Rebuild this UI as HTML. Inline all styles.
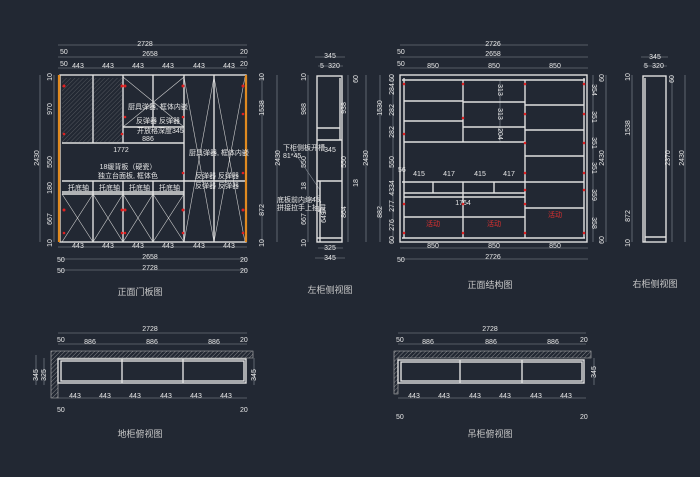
<!DOCTYPE html>
<html><head><meta charset="utf-8"><style>
html,body{margin:0;padding:0;background:#222833;}
svg{display:block}
text{font-family:"Liberation Sans","Noto Sans CJK SC",sans-serif;fill:#e8e8e8;font-size:7px}
.d{stroke:#8a9099;stroke-width:.6;fill:none}
.w{stroke:#e0e0e0;stroke-width:1.4;fill:none}
.t{stroke:#d0d0d0;stroke-width:.6;fill:none}
.o{stroke:#e08a20;stroke-width:2.2}
.r{fill:#e02020}
.lb{font-size:9px;fill:#c8c8c8}
.rt{fill:#e03030;font-size:7px}
</style></head><body>
<svg width="700" height="477" viewBox="0 0 700 477" xmlns="http://www.w3.org/2000/svg">
<defs><pattern id="h" width="3" height="3" patternUnits="userSpaceOnUse" patternTransform="rotate(45)"><line x1="0" y1="0" x2="0" y2="3" stroke="#aaa" stroke-width=".7"/></pattern></defs>

<!-- ===== 正面门板图 ===== -->
<g class="d">
<line x1="58" y1="45" x2="247" y2="45"/><line x1="58" y1="57" x2="247" y2="57"/><line x1="58" y1="68" x2="247" y2="68"/>
<line x1="58" y1="247" x2="247" y2="247"/><line x1="58" y1="259" x2="247" y2="259"/><line x1="58" y1="270" x2="247" y2="270"/>
<line x1="40" y1="75" x2="40" y2="242"/><line x1="54" y1="75" x2="54" y2="242"/>
<line x1="262" y1="75" x2="262" y2="242"/><line x1="277" y1="75" x2="277" y2="242"/>
</g>
<text x="145" y="46" text-anchor="middle">2728</text>
<text x="60" y="54">50</text><text x="150" y="56" text-anchor="middle">2658</text><text x="240" y="54">20</text>
<text x="60" y="66">50</text><text x="240" y="66">20</text>
<text x="78" y="68" text-anchor="middle">443</text><text x="108" y="68" text-anchor="middle">443</text><text x="138" y="68" text-anchor="middle">443</text><text x="168" y="68" text-anchor="middle">443</text><text x="199" y="68" text-anchor="middle">443</text><text x="229" y="68" text-anchor="middle">443</text>
<text x="78" y="248" text-anchor="middle">443</text><text x="108" y="248" text-anchor="middle">443</text><text x="138" y="248" text-anchor="middle">443</text><text x="168" y="248" text-anchor="middle">443</text><text x="199" y="248" text-anchor="middle">443</text><text x="229" y="248" text-anchor="middle">443</text>
<text x="57" y="262">50</text><text x="150" y="259" text-anchor="middle">2658</text><text x="240" y="262">20</text>
<text x="57" y="273">50</text><text x="150" y="270" text-anchor="middle">2728</text><text x="240" y="273">20</text>
<text transform="translate(39,158) rotate(-90)" text-anchor="middle">2430</text>
<text transform="translate(52,109) rotate(-90)" text-anchor="middle">970</text>
<text transform="translate(52,162) rotate(-90)" text-anchor="middle">550</text>
<text transform="translate(52,188) rotate(-90)" text-anchor="middle">180</text>
<text transform="translate(52,219) rotate(-90)" text-anchor="middle">667</text>
<text transform="translate(52,77) rotate(-90)" text-anchor="middle">10</text>
<text transform="translate(52,243) rotate(-90)" text-anchor="middle">10</text>
<text transform="translate(264,108) rotate(-90)" text-anchor="middle">1538</text>
<text transform="translate(264,210) rotate(-90)" text-anchor="middle">872</text>
<text transform="translate(280,158) rotate(-90)" text-anchor="middle">2430</text>
<text transform="translate(264,77) rotate(-90)" text-anchor="middle">10</text>
<text transform="translate(264,243) rotate(-90)" text-anchor="middle">10</text>
<g>
<rect x="62" y="78" width="60" height="64" fill="url(#h)" opacity=".5"/>
<line class="t" x1="62" y1="194" x2="93" y2="242"/><line class="t" x1="93" y1="194" x2="62" y2="242"/>
<line class="t" x1="93" y1="194" x2="123" y2="242"/><line class="t" x1="123" y1="194" x2="93" y2="242"/>
<line class="t" x1="123" y1="194" x2="153" y2="242"/><line class="t" x1="153" y1="194" x2="123" y2="242"/>
<line class="t" x1="153" y1="194" x2="184" y2="242"/><line class="t" x1="184" y1="194" x2="153" y2="242"/>
<line class="t" x1="184" y1="77" x2="214" y2="242"/><line class="t" x1="214" y1="77" x2="184" y2="242"/>
<line class="t" x1="214" y1="77" x2="245" y2="242"/><line class="t" x1="245" y1="77" x2="214" y2="242"/>
<line class="t" x1="123" y1="77" x2="184" y2="127"/><line class="t" x1="184" y1="77" x2="123" y2="127"/>
</g>
<g class="w">
<rect x="60" y="75" width="186" height="167"/>
<line x1="62" y1="143" x2="184" y2="143"/><line x1="123" y1="127" x2="184" y2="127"/>
<line x1="62" y1="181" x2="245" y2="181"/><line x1="62" y1="194" x2="184" y2="194"/><line x1="62" y1="192" x2="184" y2="192"/>
<line x1="93" y1="75" x2="93" y2="143"/><line x1="123" y1="75" x2="123" y2="143"/><line x1="153" y1="75" x2="153" y2="127"/>
<line x1="184" y1="75" x2="184" y2="242"/><line x1="214" y1="75" x2="214" y2="242"/>
<line x1="93" y1="181" x2="93" y2="242"/><line x1="123" y1="181" x2="123" y2="242"/><line x1="153" y1="181" x2="153" y2="242"/>
</g>
<line class="o" x1="59" y1="75" x2="59" y2="242"/><line class="o" x1="246" y1="75" x2="246" y2="242"/>
<g class="r">
<circle cx="64" cy="86" r="1.5"/><circle cx="122" cy="86" r="1.5"/><circle cx="125" cy="86" r="1.5"/><circle cx="183" cy="86" r="1.5"/><circle cx="243" cy="86" r="1.5"/>
<circle cx="64" cy="134" r="1.3"/><circle cx="122" cy="134" r="1.3"/><circle cx="125" cy="117" r="1.3"/><circle cx="183" cy="117" r="1.3"/><circle cx="243" cy="114" r="1.3"/>
<circle cx="183" cy="173" r="1.3"/><circle cx="243" cy="173" r="1.3"/>
<circle cx="64" cy="210" r="1.5"/><circle cx="122" cy="210" r="1.5"/><circle cx="125" cy="210" r="1.5"/><circle cx="183" cy="210" r="1.5"/><circle cx="243" cy="210" r="1.5"/>
<circle cx="64" cy="233" r="1.3"/><circle cx="122" cy="233" r="1.3"/><circle cx="125" cy="233" r="1.3"/><circle cx="183" cy="233" r="1.3"/><circle cx="243" cy="233" r="1.3"/>
</g>
<text x="128" y="109" font-size="6">厨具弹器, 框体内嵌</text>
<text x="136" y="123" font-size="6">反弹器 反弹器</text>
<text x="137" y="133" font-size="6">开放格深度345</text>
<text x="148" y="141" text-anchor="middle">886</text>
<text x="121" y="152" text-anchor="middle">1772</text>
<text x="128" y="169" text-anchor="middle" font-size="6">18缓背板（硬瓷）</text>
<text x="128" y="178" text-anchor="middle" font-size="6">独立台面板, 框体色</text>
<text x="189" y="155" font-size="6">厨具弹器, 框体内嵌</text>
<text x="195" y="178" font-size="6">反弹器 反弹器</text>
<text x="195" y="188" font-size="6">反弹器 反弹器</text>
<text x="68" y="190" font-size="6">托底轴</text><text x="99" y="190" font-size="6">托底轴</text><text x="129" y="190" font-size="6">托底轴</text><text x="159" y="190" font-size="6">托底轴</text>
<text x="140" y="295" class="lb" text-anchor="middle">正面门板图</text>

<!-- ===== 左柜侧视图 ===== -->
<g class="d">
<line x1="315" y1="57" x2="345" y2="57"/><line x1="318" y1="66" x2="343" y2="66"/>
<line x1="308" y1="75" x2="308" y2="242"/><line x1="348" y1="75" x2="348" y2="242"/><line x1="366" y1="75" x2="366" y2="242"/>
<line x1="318" y1="248" x2="343" y2="248"/><line x1="315" y1="258" x2="345" y2="258"/>
<line x1="293" y1="150" x2="320" y2="190"/><line x1="293" y1="208" x2="320" y2="195"/>
</g>
<text x="330" y="58" text-anchor="middle">345</text><text x="320" y="68">5</text><text x="334" y="68" text-anchor="middle">320</text>
<text x="330" y="152" text-anchor="middle">345</text>
<text x="330" y="250" text-anchor="middle">325</text><text x="330" y="260" text-anchor="middle">345</text>
<text transform="translate(306,109) rotate(-90)" text-anchor="middle">988</text>
<text transform="translate(306,162) rotate(-90)" text-anchor="middle">550</text>
<text transform="translate(306,219) rotate(-90)" text-anchor="middle">667</text>
<text transform="translate(306,186) rotate(-90)" text-anchor="middle">18</text>
<text transform="translate(306,77) rotate(-90)" text-anchor="middle">10</text>
<text transform="translate(306,243) rotate(-90)" text-anchor="middle">10</text>
<text transform="translate(346,108) rotate(-90)" text-anchor="middle">938</text>
<text transform="translate(346,162) rotate(-90)" text-anchor="middle">550</text>
<text transform="translate(346,212) rotate(-90)" text-anchor="middle">864</text>
<text transform="translate(358,79) rotate(-90)" text-anchor="middle">60</text>
<text transform="translate(358,183) rotate(-90)" text-anchor="middle">18</text>
<text transform="translate(368,158) rotate(-90)" text-anchor="middle">2430</text>
<text transform="translate(326,217) rotate(-90)" text-anchor="middle">649</text>
<text x="318" y="213">45</text>
<text x="283" y="150" font-size="6">下柜侧板开槽</text><text x="283" y="158" font-size="6">81*45</text>
<text x="277" y="202" font-size="6">底板前内缩45,</text><text x="277" y="210" font-size="6">拼接拉手上抽屉</text>
<g class="w">
<rect x="317" y="76" width="25" height="166"/>
<line x1="317" y1="140" x2="342" y2="140"/><line x1="317" y1="128" x2="340" y2="128"/><line x1="340" y1="78" x2="340" y2="140"/>
<line x1="317" y1="181" x2="342" y2="181"/><line x1="320" y1="181" x2="320" y2="242"/><line x1="317" y1="238" x2="342" y2="238"/>
</g>
<text x="330" y="293" class="lb" text-anchor="middle">左柜侧视图</text>

<!-- ===== 正面结构图 ===== -->
<g class="d">
<line x1="400" y1="45" x2="588" y2="45"/><line x1="400" y1="57" x2="588" y2="57"/><line x1="400" y1="68" x2="588" y2="68"/>
<line x1="400" y1="248" x2="588" y2="248"/><line x1="400" y1="259" x2="588" y2="259"/>
<line x1="380" y1="75" x2="380" y2="242"/><line x1="393" y1="75" x2="393" y2="242"/>
<line x1="593" y1="75" x2="593" y2="242"/><line x1="606" y1="75" x2="606" y2="242"/>
<line x1="500" y1="80" x2="500" y2="142"/>
</g>
<text x="493" y="46" text-anchor="middle">2726</text>
<text x="397" y="54">50</text><text x="493" y="56" text-anchor="middle">2658</text>
<text x="397" y="66">50</text>
<text x="433" y="68" text-anchor="middle">850</text><text x="494" y="68" text-anchor="middle">850</text><text x="555" y="68" text-anchor="middle">850</text>
<text x="433" y="248" text-anchor="middle">850</text><text x="494" y="248" text-anchor="middle">850</text><text x="555" y="248" text-anchor="middle">850</text>
<text x="397" y="262">50</text><text x="493" y="259" text-anchor="middle">2726</text>
<text transform="translate(382,108) rotate(-90)" text-anchor="middle">1530</text>
<text transform="translate(382,212) rotate(-90)" text-anchor="middle">882</text>
<text transform="translate(394,78) rotate(-90)" text-anchor="middle">60</text>
<text transform="translate(394,89) rotate(-90)" text-anchor="middle">284</text>
<text transform="translate(394,110) rotate(-90)" text-anchor="middle">282</text>
<text transform="translate(394,132) rotate(-90)" text-anchor="middle">282</text>
<text transform="translate(394,162) rotate(-90)" text-anchor="middle">550</text>
<text transform="translate(394,188) rotate(-90)" text-anchor="middle">4334</text>
<text transform="translate(394,206) rotate(-90)" text-anchor="middle">277</text>
<text transform="translate(394,225) rotate(-90)" text-anchor="middle">276</text>
<text transform="translate(394,240) rotate(-90)" text-anchor="middle">60</text>
<text x="398" y="172" font-size="6">56</text>
<text transform="translate(498,90) rotate(90)" text-anchor="middle">313</text>
<text transform="translate(498,114) rotate(90)" text-anchor="middle">313</text>
<text transform="translate(498,134) rotate(90)" text-anchor="middle">204</text>
<text transform="translate(592,90) rotate(90)" text-anchor="middle">354</text>
<text transform="translate(592,117) rotate(90)" text-anchor="middle">351</text>
<text transform="translate(592,143) rotate(90)" text-anchor="middle">351</text>
<text transform="translate(592,168) rotate(90)" text-anchor="middle">351</text>
<text transform="translate(592,195) rotate(90)" text-anchor="middle">359</text>
<text transform="translate(592,223) rotate(90)" text-anchor="middle">358</text>
<text transform="translate(604,78) rotate(-90)" text-anchor="middle">60</text>
<text transform="translate(604,158) rotate(-90)" text-anchor="middle">2430</text>
<text transform="translate(604,240) rotate(-90)" text-anchor="middle">60</text>
<text x="419" y="176" text-anchor="middle">415</text><text x="449" y="176" text-anchor="middle">417</text><text x="480" y="176" text-anchor="middle">415</text><text x="509" y="176" text-anchor="middle">417</text>
<text x="463" y="205" text-anchor="middle">1764</text>
<g class="w">
<rect x="400" y="75" width="187" height="167"/>
<line x1="404" y1="78" x2="404" y2="238"/><line x1="584" y1="78" x2="584" y2="238"/>
<line x1="402" y1="80" x2="585" y2="80"/><line x1="402" y1="238" x2="585" y2="238"/>
<line x1="463" y1="80" x2="463" y2="142"/><line x1="525" y1="80" x2="525" y2="238"/>
<line x1="404" y1="101" x2="463" y2="101"/><line x1="404" y1="121" x2="463" y2="121"/><line x1="404" y1="142" x2="525" y2="142"/>
<line x1="463" y1="102" x2="525" y2="102"/><line x1="463" y1="127" x2="525" y2="127"/>
<line x1="525" y1="105" x2="584" y2="105"/><line x1="525" y1="130" x2="584" y2="130"/><line x1="525" y1="156" x2="584" y2="156"/><line x1="525" y1="182" x2="584" y2="182"/><line x1="525" y1="208" x2="584" y2="208"/>
<line x1="402" y1="182" x2="525" y2="182"/><line x1="404" y1="193" x2="525" y2="193"/><line x1="404" y1="197" x2="525" y2="197"/><line x1="404" y1="217" x2="525" y2="217"/>
<line x1="463" y1="182" x2="463" y2="238"/><line x1="433" y1="182" x2="433" y2="193"/><line x1="494" y1="182" x2="494" y2="193"/>
</g>
<g class="r">
<circle cx="404" cy="84" r="1.3"/><circle cx="463" cy="84" r="1.3"/><circle cx="525" cy="84" r="1.3"/><circle cx="584" cy="84" r="1.3"/>
<circle cx="404" cy="134" r="1.3"/><circle cx="463" cy="118" r="1.3"/><circle cx="525" cy="114" r="1.3"/><circle cx="584" cy="114" r="1.3"/>
<circle cx="525" cy="143" r="1.3"/><circle cx="584" cy="143" r="1.3"/><circle cx="525" cy="173" r="1.3"/><circle cx="584" cy="173" r="1.3"/>
<circle cx="525" cy="190" r="1.3"/><circle cx="584" cy="190" r="1.3"/>
<circle cx="404" cy="204" r="1.3"/><circle cx="463" cy="204" r="1.3"/><circle cx="525" cy="204" r="1.3"/>
<circle cx="404" cy="233" r="1.3"/><circle cx="463" cy="233" r="1.3"/><circle cx="525" cy="233" r="1.3"/><circle cx="584" cy="233" r="1.3"/>
</g>
<text x="433" y="226" class="rt" text-anchor="middle">活动</text><text x="494" y="226" class="rt" text-anchor="middle">活动</text><text x="555" y="217" class="rt" text-anchor="middle">活动</text>
<text x="490" y="288" class="lb" text-anchor="middle">正面结构图</text>

<!-- ===== 右柜侧视图 ===== -->
<g class="d">
<line x1="641" y1="57" x2="668" y2="57"/><line x1="643" y1="66" x2="667" y2="66"/>
<line x1="632" y1="75" x2="632" y2="242"/><line x1="672" y1="75" x2="672" y2="242"/><line x1="685" y1="75" x2="685" y2="242"/>
</g>
<text x="655" y="59" text-anchor="middle">345</text><text x="644" y="68">5</text><text x="658" y="68" text-anchor="middle">320</text>
<text transform="translate(630,77) rotate(-90)" text-anchor="middle">10</text>
<text transform="translate(630,128) rotate(-90)" text-anchor="middle">1538</text>
<text transform="translate(630,216) rotate(-90)" text-anchor="middle">872</text>
<text transform="translate(630,243) rotate(-90)" text-anchor="middle">10</text>
<text transform="translate(674,79) rotate(-90)" text-anchor="middle">60</text>
<text transform="translate(670,158) rotate(-90)" text-anchor="middle">2370</text>
<text transform="translate(684,158) rotate(-90)" text-anchor="middle">2430</text>
<g class="w"><rect x="643" y="76" width="23" height="166"/><line x1="645" y1="78" x2="645" y2="242"/><line x1="645" y1="237" x2="666" y2="237"/></g>
<text x="655" y="287" class="lb" text-anchor="middle">右柜侧视图</text>

<!-- ===== 地柜俯视图 ===== -->
<g class="d">
<line x1="58" y1="333" x2="247" y2="333"/><line x1="58" y1="344" x2="247" y2="344"/><line x1="58" y1="398" x2="247" y2="398"/>
<line x1="36" y1="355" x2="36" y2="385"/><line x1="44" y1="358" x2="44" y2="385"/><line x1="254" y1="358" x2="254" y2="385"/>
</g>
<text x="150" y="331" text-anchor="middle">2728</text>
<text x="57" y="342">50</text><text x="240" y="342">20</text>
<text x="90" y="344" text-anchor="middle">886</text><text x="152" y="344" text-anchor="middle">886</text><text x="214" y="344" text-anchor="middle">886</text>
<text x="75" y="398" text-anchor="middle">443</text><text x="105" y="398" text-anchor="middle">443</text><text x="135" y="398" text-anchor="middle">443</text><text x="166" y="398" text-anchor="middle">443</text><text x="196" y="398" text-anchor="middle">443</text><text x="226" y="398" text-anchor="middle">443</text>
<text x="57" y="412">50</text><text x="240" y="412">20</text>
<text transform="translate(38,375) rotate(-90)" text-anchor="middle">345</text>
<text transform="translate(46,375) rotate(-90)" text-anchor="middle">325</text>
<text transform="translate(256,375) rotate(-90)" text-anchor="middle">345</text>
<path d="M51,351 H253 V358 H58 V398 H51 Z" fill="url(#h)" stroke="#bbb" stroke-width=".6"/>
<g class="w"><rect x="58" y="359" width="188" height="24"/><rect x="61" y="361" width="183" height="20"/><line x1="122" y1="359" x2="122" y2="383"/><line x1="183" y1="359" x2="183" y2="383"/></g>
<text x="140" y="437" class="lb" text-anchor="middle">地柜俯视图</text>

<!-- ===== 吊柜俯视图 ===== -->
<g class="d">
<line x1="398" y1="333" x2="586" y2="333"/><line x1="398" y1="344" x2="586" y2="344"/><line x1="398" y1="398" x2="586" y2="398"/>
<line x1="594" y1="358" x2="594" y2="385"/>
</g>
<text x="490" y="331" text-anchor="middle">2728</text>
<text x="396" y="342">50</text><text x="580" y="342">20</text>
<text x="428" y="344" text-anchor="middle">886</text><text x="491" y="344" text-anchor="middle">886</text><text x="553" y="344" text-anchor="middle">886</text>
<text x="414" y="398" text-anchor="middle">443</text><text x="444" y="398" text-anchor="middle">443</text><text x="475" y="398" text-anchor="middle">443</text><text x="505" y="398" text-anchor="middle">443</text><text x="536" y="398" text-anchor="middle">443</text><text x="566" y="398" text-anchor="middle">443</text>
<text x="396" y="419">50</text><text x="580" y="419">20</text>
<text transform="translate(596,372) rotate(-90)" text-anchor="middle">345</text>
<path d="M394,351 H591 V358 H398 V394 H394 Z" fill="url(#h)" stroke="#bbb" stroke-width=".6"/>
<g class="w"><rect x="398" y="360" width="186" height="23"/><rect x="401" y="362" width="181" height="19"/><line x1="460" y1="360" x2="460" y2="383"/><line x1="522" y1="360" x2="522" y2="383"/></g>
<text x="490" y="437" class="lb" text-anchor="middle">吊柜俯视图</text>
</svg>
</body></html>
